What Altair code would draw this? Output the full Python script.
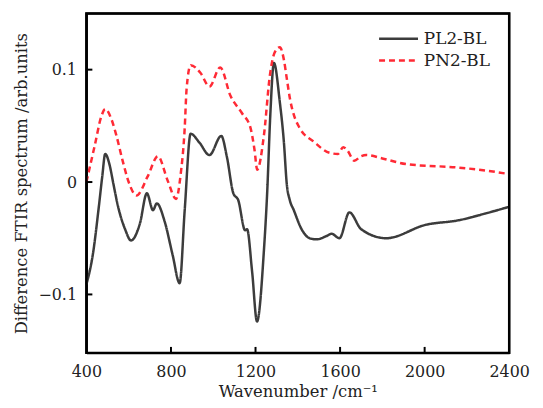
import altair as alt
import pandas as pd

# PL2-BL (solid dark line)
pl_w = [400, 430, 460, 475, 489, 510, 527, 550, 583, 611, 653, 686, 715, 733, 770, 808, 841,
        865, 893, 935, 982, 1038, 1065, 1095, 1118, 1151, 1160, 1184, 1207, 1240, 1255, 1270,
        1287, 1315, 1334, 1348, 1362, 1381, 1418, 1456, 1489, 1536, 1560, 1597, 1644, 1700,
        1818, 2006, 2161, 2287, 2400]
pl_v = [-0.091, -0.065, -0.020, 0.005, 0.025, 0.015, -0.001, -0.022, -0.042, -0.052, -0.037,
        -0.010, -0.025, -0.019, -0.035, -0.065, -0.090, -0.025, 0.043, 0.035, 0.024, 0.041,
        0.022, -0.010, -0.016, -0.043, -0.042, -0.080, -0.124, -0.060, -0.010, 0.060, 0.106,
        0.071, 0.036, -0.002, -0.016, -0.025, -0.042, -0.050, -0.051, -0.048, -0.046, -0.050,
        -0.027, -0.042, -0.050, -0.038, -0.034, -0.028, -0.022]

# PN2-BL (dashed red line)
pn_w = [400, 440, 470, 489, 520, 541, 570, 600, 637, 690, 738, 785, 824, 846, 865, 874, 893,
        940, 982, 1033, 1081, 1137, 1175, 1195, 1208, 1240, 1268, 1290, 1315, 1335, 1348, 1365,
        1381, 1409, 1475, 1550, 1590, 1615, 1635, 1667, 1700, 1724, 1800, 1912, 2150, 2300, 2400]
pn_v = [0.000, 0.033, 0.058, 0.065, 0.055, 0.042, 0.020, 0.000, -0.012, 0.005, 0.023, 0.001,
        -0.015, 0.007, 0.048, 0.083, 0.104, 0.097, 0.085, 0.102, 0.077, 0.061, 0.049, 0.029,
        0.011, 0.042, 0.095, 0.115, 0.120, 0.108, 0.092, 0.072, 0.060, 0.048, 0.036, 0.026,
        0.025, 0.031, 0.028, 0.019, 0.023, 0.024, 0.021, 0.016, 0.013, 0.010, 0.007]

series_names = ["PL2-BL", "PN2-BL"]
series_colors = ["#3c3c3c", "#ff2a35"]
x_ticks = [400, 800, 1200, 1600, 2000, 2400]
y_ticks = [-0.1, 0.0, 0.1]
x_domain = [400, 2400]
y_domain = [-0.152, 0.150]

df = pd.concat([
    pd.DataFrame({"w": pl_w, "v": pl_v, "s": series_names[0]}),
    pd.DataFrame({"w": pn_w, "v": pn_v, "s": series_names[1]}),
])

FONT = "DejaVu Serif"
W, H = 426, 342

xs = alt.Scale(domain=x_domain, nice=False, zero=False)
ys = alt.Scale(domain=y_domain, nice=False, zero=False)

leg = dict(title=None, orient="none", legendX=301, legendY=12,
           symbolType="M-1.6,0H1.6", symbolSize=600, symbolStrokeWidth=2.5,
           labelOffset=12, labelFontSize=17, labelFont=FONT, labelColor="#222",
           rowPadding=0, padding=0)

x_axis = alt.Axis(title="Wavenumber /cm\u207b\u00b9", values=x_ticks, tickSize=0,
                  labelPadding=11, titlePadding=4, grid=False, format="d",
                  labelFlush=False)
y_axis = alt.Axis(title="Difference FTIR spectrum /arb.units", values=y_ticks,
                  tickSize=0, labelPadding=10, titlePadding=9, grid=False,
                  labelExpr="datum.value == 0 ? '0' : format(datum.value, '.1f')")

lines = alt.Chart(df).mark_line(strokeWidth=2.5, interpolate="monotone").encode(
    x=alt.X("w:Q", scale=xs, axis=x_axis),
    y=alt.Y("v:Q", scale=ys, axis=y_axis),
    color=alt.Color("s:N", scale=alt.Scale(domain=series_names, range=series_colors),
                    legend=alt.Legend(**leg)),
    strokeDash=alt.StrokeDash("s:N", scale=alt.Scale(domain=series_names, range=[[1, 0], [6, 4]]),
                              legend=alt.Legend(**leg)),
)

# plot frame: an unfilled rectangle spanning the scale domains, drawn on top
frame_df = pd.DataFrame({"x0": [x_domain[0]], "x1": [x_domain[1]],
                         "y0": [y_domain[0]], "y1": [y_domain[1]]})
frame = alt.Chart(frame_df).mark_rect(
    fillOpacity=0, stroke="#000000", strokeWidth=2.5, strokeOpacity=1).encode(
    x=alt.X("x0:Q", scale=xs), x2="x1:Q",
    y=alt.Y("y0:Q", scale=ys), y2="y1:Q",
)

xt = pd.DataFrame({"t": x_ticks[1:-1]})
yt = pd.DataFrame({"t": y_ticks})

xtick_rules = alt.Chart(xt).mark_rule(stroke="#000000", strokeWidth=2).encode(
    x=alt.X("t:Q", scale=xs), y=alt.value(H - 6), y2=alt.value(H))
ytick_rules = alt.Chart(yt).mark_rule(stroke="#000000", strokeWidth=2).encode(
    y=alt.Y("t:Q", scale=ys), x=alt.value(0), x2=alt.value(6))

chart = alt.layer(lines, xtick_rules, ytick_rules, frame).properties(
    width=W, height=H,
    padding={"left": 5, "top": 2, "right": 5, "bottom": 0},
).configure_view(stroke="#000000", strokeWidth=2).configure_axis(
    domainColor="black", domainWidth=2,
    labelFont=FONT, labelFontSize=16, labelColor="#222",
    titleFont=FONT, titleFontSize=16.5, titleFontWeight="normal", titleColor="#222",
)

chart.save("out.html", embed_options={"renderer": "svg", "actions": False})
